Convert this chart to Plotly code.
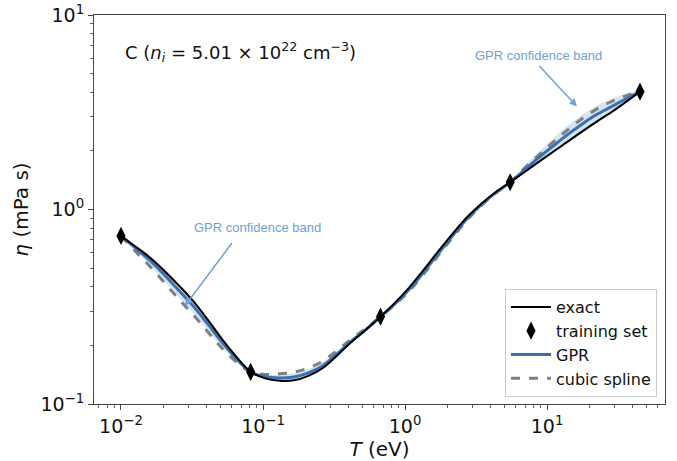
import plotly.graph_objects as go

# Temperature grid (eV), log-spaced sample positions
T = [0.0100, 0.01262, 0.01596, 0.02014, 0.02547, 0.03214, 0.04064, 0.05129, 0.06486, 0.08185,
     0.1035, 0.1306, 0.1652, 0.2084, 0.2636, 0.3327, 0.4207, 0.5309, 0.6714, 0.8472,
     1.0715, 1.352, 1.710, 2.158, 2.729, 3.443, 4.355, 5.495, 6.950, 8.770,
     11.09, 14.00, 17.70, 22.34, 28.25, 35.65, 45.08]

# exact viscosity (mPa s)
eta_exact = [0.731, 0.6457, 0.5662, 0.4842, 0.4074, 0.3388, 0.2723, 0.2162, 0.1750, 0.1462,
             0.1355, 0.1318, 0.1324, 0.1396, 0.1531, 0.1778, 0.2089, 0.2410, 0.2812, 0.3311,
             0.3981, 0.4898, 0.6095, 0.7499, 0.9120, 1.0715, 1.2303, 1.3804, 1.5596, 1.7620,
             1.9861, 2.2387, 2.5235, 2.8314, 3.1623, 3.5645, 4.0365]
# GPR mean
eta_gpr = [0.731, 0.6339, 0.5470, 0.4624, 0.3846, 0.3199, 0.2588, 0.2080, 0.1710, 0.1462,
           0.1380, 0.1361, 0.1377, 0.1445, 0.1574, 0.1811, 0.2109, 0.2421, 0.2812, 0.3266,
           0.3890, 0.4764, 0.5929, 0.7328, 0.8954, 1.0593, 1.2218, 1.3804, 1.6032, 1.8535,
           2.1281, 2.4322, 2.7542, 3.0761, 3.3729, 3.6983, 4.0365]
# cubic spline
eta_spline = [0.731, 0.6095, 0.5105, 0.4217, 0.3467, 0.2884, 0.2360, 0.1941, 0.1644, 0.1462,
              0.1419, 0.1429, 0.1459, 0.1531, 0.1660, 0.1884, 0.2163, 0.2449, 0.2812, 0.3236,
              0.3819, 0.4656, 0.5794, 0.7161, 0.8810, 1.0471, 1.2162, 1.3804, 1.6331, 1.9099,
              2.2284, 2.5704, 2.9376, 3.2810, 3.5810, 3.8371, 4.0365]
# GPR confidence band
band_lo = [0.731, 0.6124, 0.5164, 0.4295, 0.3540, 0.2944, 0.2404, 0.1963, 0.1652, 0.1462,
           0.1349, 0.1312, 0.1318, 0.1380, 0.1510, 0.1754, 0.2065, 0.2393, 0.2812, 0.3221,
           0.3802, 0.4624, 0.5741, 0.7112, 0.8730, 1.0399, 1.2106, 1.3804, 1.5382, 1.7298,
           1.9409, 2.1878, 2.4660, 2.7669, 3.0761, 3.4834, 4.0365]
band_hi = [0.731, 0.6561, 0.5794, 0.4977, 0.4178, 0.3475, 0.2786, 0.2203, 0.1770, 0.1462,
           0.1413, 0.1413, 0.1439, 0.1514, 0.1641, 0.1871, 0.2153, 0.2449, 0.2812, 0.3311,
           0.3981, 0.4909, 0.6124, 0.7551, 0.9183, 1.0789, 1.2331, 1.3804, 1.6711, 1.9861,
           2.3335, 2.7040, 3.0761, 3.4198, 3.6983, 3.9264, 4.0365]

# training set
T_train = [0.0100, 0.08185, 0.6714, 5.495, 45.08]
eta_train = [0.731, 0.1462, 0.2812, 1.3804, 4.0365]

# tick labels
x_tickvals = [0.01, 0.1, 1, 10]
x_ticktext = ["10<sup>−2</sup>", "10<sup>−1</sup>", "10<sup>0</sup>", "10<sup>1</sup>"]
y_tickvals = [0.1, 1, 10]
y_ticktext = ["10<sup>−1</sup>", "10<sup>0</sup>", "10<sup>1</sup>"]
minor_digits = [2, 3, 4, 5, 6, 7, 8, 9]
x_minor = [d * 10.0 ** e for e in (-3, -2, -1, 0, 1) for d in minor_digits]
y_minor = [d * 10.0 ** e for e in (-2, -1, 0) for d in minor_digits]

fig = go.Figure()

fig.add_trace(go.Scatter(x=T, y=band_lo, mode="lines", line=dict(width=0, shape="spline"),
                         showlegend=False, hoverinfo="skip"))
fig.add_trace(go.Scatter(x=T, y=band_hi, mode="lines", line=dict(width=0, shape="spline"),
                         fill="tonexty", fillcolor="rgba(70,130,180,0.22)",
                         showlegend=False, hoverinfo="skip"))
fig.add_trace(go.Scatter(x=T, y=eta_spline, mode="lines", name="cubic spline", legendrank=4,
                         line=dict(color="#808080", width=3, dash="dash", shape="spline")))
fig.add_trace(go.Scatter(x=T, y=eta_gpr, mode="lines", name="GPR", legendrank=3,
                         line=dict(color="#3a72b0", width=3, shape="spline")))
fig.add_trace(go.Scatter(x=T, y=eta_exact, mode="lines", name="exact", legendrank=1,
                         line=dict(color="black", width=2, shape="spline")))
fig.add_trace(go.Scatter(x=T_train, y=eta_train, mode="markers", name="training set", legendrank=2,
                         marker=dict(symbol="diamond-tall", size=13, color="black")))

axis_common = dict(
    type="log", showline=True, linecolor="#444", linewidth=1, mirror=True,
    ticks="outside", ticklen=5, tickcolor="#444", showgrid=False, zeroline=False,
    automargin=False,
    tickfont=dict(family="DejaVu Sans", size=19, color="#111"),
)

fig.update_xaxes(range=[-2.19, 1.83], tickvals=x_tickvals, ticktext=x_ticktext,
                 minor=dict(ticks="outside", ticklen=3, tickcolor="#666", showgrid=False,
                            tickmode="array", tickvals=x_minor),
                 title=dict(text="<i>T</i> (eV)", font=dict(family="DejaVu Sans", size=20, color="#111"),
                            standoff=2),
                 **axis_common)
fig.update_yaxes(range=[-1, 1], tickvals=y_tickvals, ticktext=y_ticktext,
                 minor=dict(ticks="outside", ticklen=3, tickcolor="#666", showgrid=False,
                            tickmode="array", tickvals=y_minor),
                 title=dict(text="<i>η</i> (mPa s)", font=dict(family="DejaVu Sans", size=20, color="#111"),
                            standoff=6),
                 **axis_common)

blue_txt = "#6fa0d8"
fig.add_annotation(x=0.05, xref="paper", y=0.905, yref="paper", xanchor="left", yanchor="middle",
                   text="C (<i>n<sub>i</sub></i> = 5.01 × 10<sup>22</sup> cm<sup>−3</sup>)",
                   showarrow=False, font=dict(family="DejaVu Sans", size=18, color="#111"))

# lower band annotation
fig.add_annotation(x=-1.55, y=-0.495, xref="x", yref="y",
                   ax=48, ay=-64, text="", showarrow=True, arrowhead=2, arrowsize=1,
                   arrowwidth=1.5, arrowcolor=blue_txt)
fig.add_annotation(x=-1.04, y=-0.095, xref="x", yref="y", text="GPR confidence band",
                   showarrow=False, font=dict(family="Liberation Sans", size=13, color=blue_txt))
# upper band annotation
fig.add_annotation(x=1.21, y=0.53, xref="x", yref="y", ax=-39, ay=-42,
                   text="", showarrow=True, arrowhead=2, arrowsize=1,
                   arrowwidth=1.5, arrowcolor=blue_txt)
fig.add_annotation(x=0.94, y=0.79, xref="x", yref="y", text="GPR confidence band",
                   showarrow=False, font=dict(family="Liberation Sans", size=13, color=blue_txt))

fig.update_layout(
    width=677, height=461,
    margin=dict(l=94, r=12, t=15, b=57),
    paper_bgcolor="white", plot_bgcolor="white",
    legend=dict(x=0.986, y=0.018, xanchor="right", yanchor="bottom", traceorder="normal",
                bgcolor="rgba(255,255,255,0.9)", bordercolor="#ccc", borderwidth=1,
                font=dict(family="DejaVu Sans", size=16, color="#111"),
                tracegroupgap=0, itemwidth=40),
)

fig.write_html("out.html")
